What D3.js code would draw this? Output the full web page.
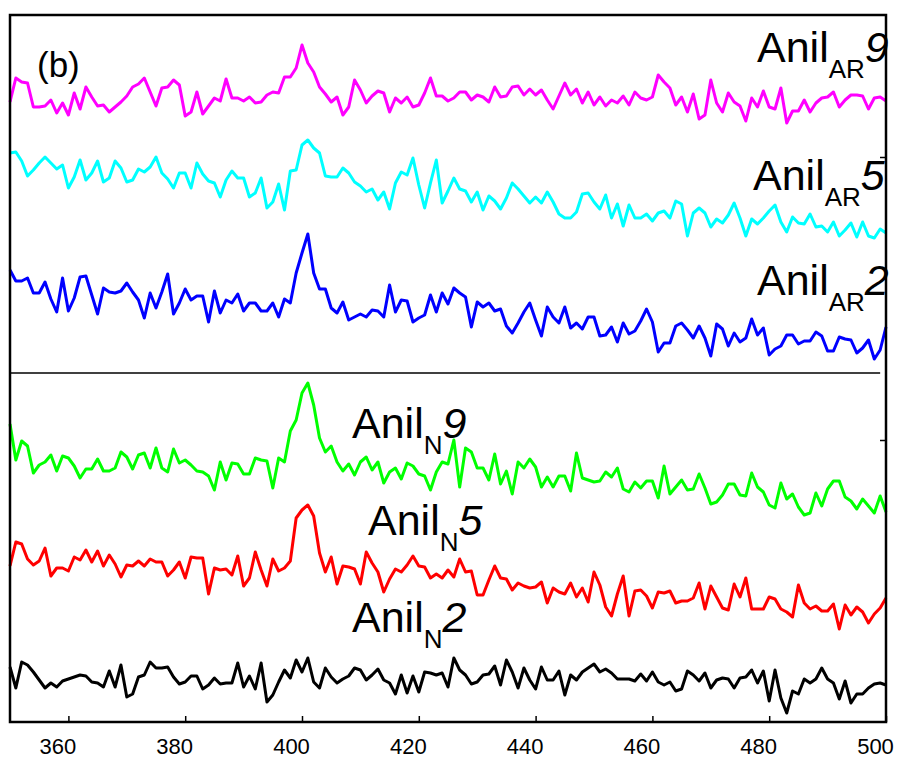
<!DOCTYPE html>
<html>
<head>
<meta charset="utf-8">
<script src="https://cdn.jsdelivr.net/npm/d3@7"></script>
<style>
  body { margin: 0; background: #fff; }
  svg { font-family: Arial, "Liberation Sans", sans-serif; }
</style>
</head>
<body>
<svg id="chart"></svg>
<script>
// wavelength (nm), 1 nm step
var wavelength = d3.range(350, 501);

// intensity (a.u., already offset for stacking)
var anilAR9 = [620,644,640,639,615,615,616,622,609,619,607,629,613,635,625,616,617,610,615,620,
  626,635,638,644,630,616,634,635,642,637,606,610,630,608,616,624,621,643,624,624,
  621,625,619,620,627,630,629,645,645,654,677,659,650,635,628,620,625,607,615,642,
  632,619,626,631,629,610,624,619,625,615,617,629,644,626,626,621,624,
  630,630,622,627,625,620,635,625,626,635,636,627,633,627,632,622,613,626,639,627,
  633,619,630,617,625,616,622,619,626,617,630,624,622,625,647,640,634,617,625,610,
  628,603,607,642,619,610,629,620,616,601,624,615,631,615,613,634,599,611,611,622,
  610,619,624,625,630,615,622,627,627,626,613,624,625,621];

var anilAR5 = [569,570,561,546,552,559,565,559,553,557,534,545,562,542,549,561,540,544,561,554,
  540,542,553,550,555,565,549,543,534,549,549,534,559,548,541,539,525,542,551,544,
  544,525,529,544,514,520,538,512,551,552,577,582,574,569,546,545,545,554,549,540,
  536,530,533,522,530,513,539,550,547,564,537,514,539,562,519,531,544,
  533,531,520,530,512,526,521,513,524,539,533,526,519,525,519,530,520,508,504,504,
  510,528,529,520,513,527,504,518,496,517,504,504,508,501,509,511,504,521,518,486,
  509,514,509,495,503,499,507,519,504,486,503,498,504,511,517,500,490,505,499,498,
  508,495,496,490,500,486,492,499,485,500,486,484,493,489];

var anilAR2 = [452,441,441,444,429,429,440,423,410,444,411,424,445,446,427,408,434,430,429,431,
  439,430,422,404,429,414,430,448,408,419,433,422,426,426,400,431,409,422,419,428,
  411,419,419,411,411,419,405,423,419,449,469,488,449,433,433,414,409,420,402,405,
  408,405,412,411,405,437,410,422,421,400,404,407,427,410,429,418,434,
  429,425,395,420,415,419,411,413,396,389,399,410,419,402,386,415,405,399,415,394,
  399,393,405,405,386,387,395,380,399,388,391,401,413,400,370,379,379,396,399,392,
  384,396,384,366,398,393,376,389,380,384,403,387,394,367,373,376,387,387,378,381,
  381,390,386,371,371,385,383,382,369,374,382,363,372,395];

var anilN9 = [298,262,281,276,249,257,260,267,251,266,264,256,244,253,253,263,251,251,254,270,
  265,253,267,269,254,274,254,250,273,259,262,257,251,250,246,232,260,242,259,258,
  248,248,264,262,261,234,264,260,291,302,329,339,317,284,270,276,260,251,258,247,
  260,265,252,260,239,250,254,243,259,256,248,246,232,250,260,258,282,
  235,274,270,254,254,242,268,238,251,228,260,254,263,255,235,245,235,246,246,231,
  269,244,242,240,241,250,245,254,233,230,240,234,241,241,224,256,228,235,242,232,
  233,248,234,218,220,227,238,238,227,226,249,235,230,217,214,239,223,228,215,207,
  209,229,216,233,241,241,225,221,213,223,216,209,226,210];

var anilN5 = [156,180,178,163,157,161,174,146,154,154,151,165,162,172,160,171,156,167,158,145,
  157,156,161,156,163,160,160,146,152,160,144,165,164,164,128,154,152,153,147,166,
  136,144,170,152,136,163,151,154,161,204,212,217,206,169,150,165,138,156,155,153,
  138,170,159,150,130,143,153,150,157,166,156,155,144,148,144,152,145,
  163,150,151,127,127,142,156,144,143,132,139,136,134,135,140,119,134,130,128,139,
  125,134,120,150,137,115,106,128,146,106,131,132,126,114,130,129,131,119,121,121,
  124,139,113,136,125,114,112,138,125,144,113,113,113,125,123,113,110,105,137,119,
  113,116,111,111,118,93,117,107,115,110,99,108,114,124];

var anilN2 = [55,34,60,57,50,42,34,39,35,41,43,45,47,46,40,39,35,51,35,57,
  25,28,45,47,60,54,54,55,45,38,40,46,46,33,37,44,38,39,39,59,
  35,46,33,59,20,27,40,52,44,62,50,64,40,34,54,45,39,43,46,54,
  52,42,47,53,42,39,28,47,29,46,30,50,49,47,49,35,64,
  52,47,38,40,47,48,56,37,62,50,34,54,42,33,55,42,42,51,27,47,
  42,50,54,58,50,53,49,43,43,43,41,48,41,50,40,37,40,31,33,51,
  47,41,49,34,42,44,43,34,44,45,52,39,51,21,52,24,9,31,28,43,
  39,43,54,43,39,23,41,19,28,28,34,38,39,37];

var seriesNames = ["AR9", "AR5", "AR2", "N9", "N5", "N2"];
var seriesColors = ["#ff00ff", "#00ffff", "#0000ff", "#00ff00", "#ff0000", "#000000"];
var allSeries = [anilAR9, anilAR5, anilAR2, anilN9, anilN5, anilN2];

var xTicks = [360, 380, 400, 420, 440, 460, 480, 500];
var separatorLevel = 349;

// label text: base, subscript, italic number
var labelSub = ["AR", "AR", "AR", "N", "N", "N"];
var labelNum = ["9", "5", "2", "9", "5", "2"];

var margin = {top: 15, right: 24, bottom: 51, left: 10};
var width = 910 - margin.left - margin.right;
var height = 773 - margin.top - margin.bottom;

var svg = d3.select("#chart")
  .attr("width", 910)
  .attr("height", 773)
  .append("g")
  .attr("transform", "translate(" + margin.left + "," + margin.top + ")");

var xScale = d3.scaleLinear().domain([350, 500]).range([0, width]);
var yScale = d3.scaleLinear().domain([0, height]).range([height, 0]);

var line = d3.line()
  .x(function(d, i) { return xScale(wavelength[i]); })
  .y(function(d) { return yScale(d); })
  .curve(d3.curveLinear);

// 各系列を描画
allSeries.forEach(function(s, i) {
  svg.append("path")
    .datum(s)
    .attr("fill", "none")
    .attr("stroke", seriesColors[i])
    .attr("stroke-width", 3)
    .attr("stroke-linejoin", "round")
    .attr("d", line);
});

// 区切り線
svg.append("line")
  .attr("x1", xScale(350)).attr("x2", xScale(499))
  .attr("y1", yScale(separatorLevel)).attr("y2", yScale(separatorLevel))
  .attr("stroke", "#000").attr("stroke-width", 1.5);

// x軸
var xAxis = d3.axisBottom(xScale).tickValues(xTicks).tickSizeInner(-6).tickSizeOuter(0).tickFormat(d3.format("d"));
var gx = svg.append("g")
  .attr("transform", "translate(0," + height + ")")
  .call(xAxis);
gx.select(".domain").remove();
gx.selectAll("line").attr("stroke", "#000").attr("stroke-width", 1.5);
gx.selectAll("text")
  .attr("y", 16)
  .attr("dx", -11)
  .attr("font-size", 22)
  .attr("font-family", "Arial, 'Liberation Sans', sans-serif")
  .attr("fill", "#000");

// 右側の目盛り
var yAxisRight = d3.axisRight(yScale).tickValues([282, 565]).tickSizeInner(-6).tickSizeOuter(0).tickFormat("");
var gy = svg.append("g").attr("transform", "translate(" + width + ",0)").call(yAxisRight);
gy.select(".domain").remove();
gy.selectAll("line").attr("stroke", "#000").attr("stroke-width", 1.5);

// 枠
svg.append("rect")
  .attr("x", 0).attr("y", 0)
  .attr("width", width).attr("height", height)
  .attr("fill", "none")
  .attr("stroke", "#000")
  .attr("stroke-width", 2.5);

// パネル記号
svg.append("text")
  .attr("x", 27).attr("y", 62)
  .attr("font-size", 35)
  .text("(b)");

// 系列ラベル
var labelPos = [[747, 47], [743, 175], [747, 280], [342, 423], [358, 520], [342, 617]];
seriesNames.forEach(function(n, i) {
  var t = svg.append("text")
    .attr("x", labelPos[i][0]).attr("y", labelPos[i][1])
    .attr("font-size", 43)
    .attr("fill", "#000");
  t.append("tspan").text("Anil");
  t.append("tspan").attr("font-size", 26).attr("dy", 16).text(labelSub[i]);
  t.append("tspan").attr("font-style", "italic").attr("dy", -16).text(labelNum[i]);
});
</script>
</body>
</html>
